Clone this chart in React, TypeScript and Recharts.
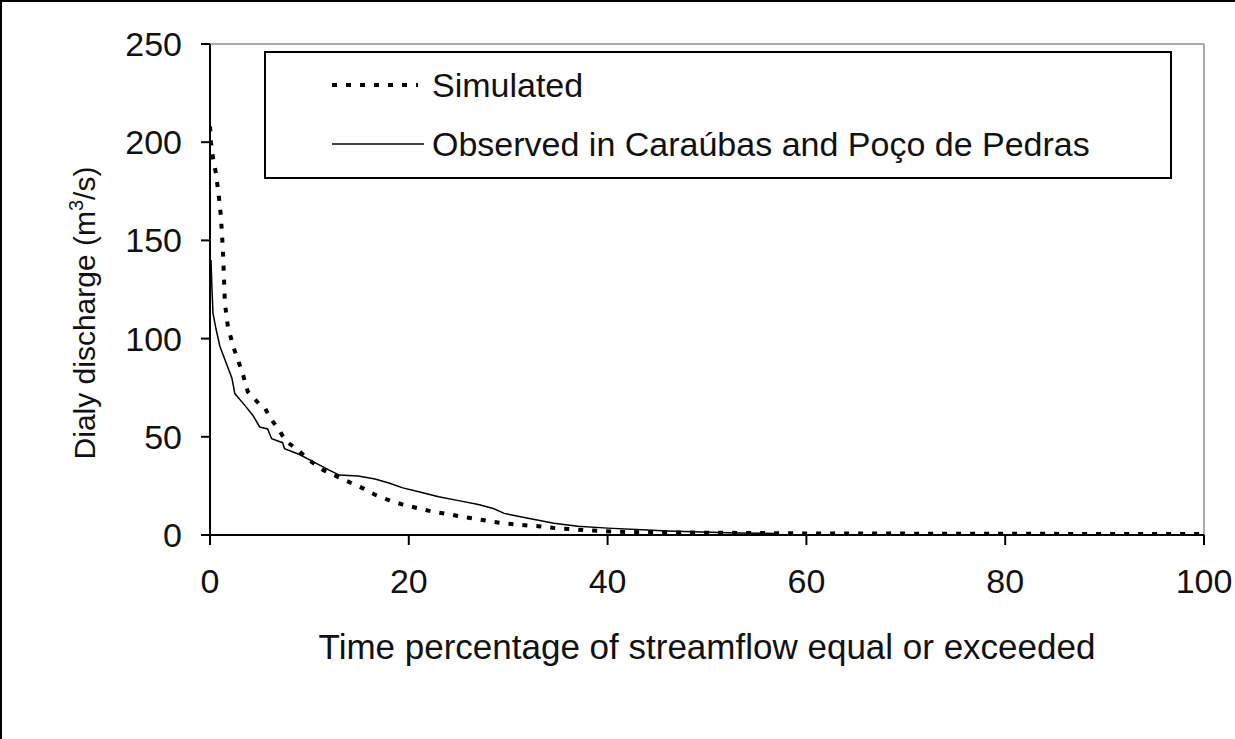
import { LineChart, Line, XAxis, YAxis, ReferenceLine } from 'recharts';

const simX = [0, 0.1, 0.3, 0.6, 0.9, 1.1, 1.3, 1.5, 1.8, 2.4, 3.3, 3.8, 4.9, 5.5, 6, 7, 7.6, 8.9, 10, 11.4, 12.7, 14.2, 15.3, 16.6, 18.1, 19.4, 21, 22.3, 23.8, 25.2, 27, 28.6, 31, 33, 34.7, 36.3, 37.6, 39.6, 42, 47, 55, 60, 80, 100];
const simY = [208, 200, 192, 184, 172, 162, 145, 118, 106, 95, 82, 73, 67, 65, 60, 53, 48, 43, 38, 33, 30, 26.5, 24, 20.5, 17.5, 15.5, 13.5, 12, 10.7, 9.5, 8, 6.6, 5.2, 4.5, 3.5, 3, 2.5, 2, 1.5, 1.3, 1, 0.8, 0.6, 0.5];

const obsX = [0.1, 0.2, 0.3, 0.6, 1, 1.6, 2.2, 2.5, 3.5, 4.3, 5, 5.8, 6.2, 7.3, 7.5, 9, 10.5, 12, 13, 14.9, 16.6, 18, 19.4, 21, 23, 25, 27, 28.5, 29.6, 32, 34.6, 37, 40, 44, 46, 53, 57];
const obsY = [140, 125, 113, 105, 96, 88, 80, 72, 66, 61, 55, 54, 49, 47, 44, 41, 37, 33, 30.5, 30, 28.5, 26.5, 24, 22, 19.5, 17.5, 15.5, 13.5, 11, 8.5, 6, 4.5, 3.5, 2.5, 2, 1, 0.8];

const xTicks = [0, 20, 40, 60, 80, 100];
const yTicks = [0, 50, 100, 150, 200, 250];
const seriesNames = ['Simulated', 'Observed in Caraúbas and Poço de Pedras'];

const simulated = simX.map((x, i) => ({ x, y: simY[i] }));
const observed = obsX.map((x, i) => ({ x, y: obsY[i] }));

const FONT = '"Liberation Sans", Arial, sans-serif';

// legend drawn as a plain box on top of the chart so it doesn't shrink the plot area
function LegendBox() {
  return (
    <div style={{ position: 'absolute', left: 264, top: 51, width: 904, height: 124, border: '2px solid #000', background: '#fff', fontFamily: FONT, fontSize: 34, color: '#111' }}>
      <svg width={110} height={124} style={{ position: 'absolute', left: 62, top: 0 }}>
        <line x1={4} x2={90} y1={32} y2={32} stroke="#000" strokeWidth={4} strokeDasharray="5 9" />
        <line x1={4} x2={96} y1={91} y2={91} stroke="#000" strokeWidth={1.5} />
      </svg>
      <div style={{ position: 'absolute', left: 166, top: 12, lineHeight: '40px' }}>{seriesNames[0]}</div>
      <div style={{ position: 'absolute', left: 166, top: 71, lineHeight: '40px' }}>{seriesNames[1]}</div>
    </div>
  );
}

export default function App() {
  return (
    <div style={{ position: 'absolute', left: 0, top: 0, width: 1235, height: 739, background: '#fff' }}>
      <LineChart width={1235} height={739} margin={{ top: 44, right: 31, bottom: 144, left: 0 }}>
        <XAxis
          type="number"
          dataKey="x"
          domain={[0, 100]}
          ticks={xTicks}
          allowDataOverflow
          height={60}
          tickSize={10}
          tickMargin={24}
          stroke="#000"
          strokeWidth={2}
          tick={{ fill: '#111', fontSize: 34, fontFamily: FONT }}
          label={{ value: 'Time percentage of streamflow equal or exceeded', position: 'insideBottom', offset: -64, fill: '#111', fontSize: 35, fontFamily: FONT }}
        />
        <YAxis
          type="number"
          domain={[0, 250]}
          ticks={yTicks}
          width={210}
          tickSize={9}
          tickMargin={19}
          stroke="#000"
          strokeWidth={2}
          tick={{ fill: '#111', fontSize: 34, fontFamily: FONT }}
          label={{
            content: () => (
              <text x={95} y={313} transform="rotate(-90 95 313)" textAnchor="middle" fill="#111" fontSize={30} fontFamily={FONT}>
                Dialy discharge (m<tspan dy={-12} fontSize={20}>3</tspan><tspan dy={12}>/s)</tspan>
              </text>
            ),
          }}
        />
        <ReferenceLine y={250} stroke="#aaa" strokeWidth={2} />
        <ReferenceLine x={100} stroke="#aaa" strokeWidth={2} />
        <Line data={observed} dataKey="y" name={seriesNames[1]} type="linear" stroke="#000" strokeWidth={1.5} dot={false} isAnimationActive={false} />
        <Line data={simulated} dataKey="y" name={seriesNames[0]} type="linear" stroke="#000" strokeWidth={4} strokeDasharray="5 9" dot={false} isAnimationActive={false} />
      </LineChart>
      <LegendBox />
      <div style={{ position: 'absolute', left: 0, top: 0, width: 1235, height: 739, borderTop: '2px solid #000', borderLeft: '2px solid #000', boxSizing: 'border-box', pointerEvents: 'none' }} />
    </div>
  );
}
